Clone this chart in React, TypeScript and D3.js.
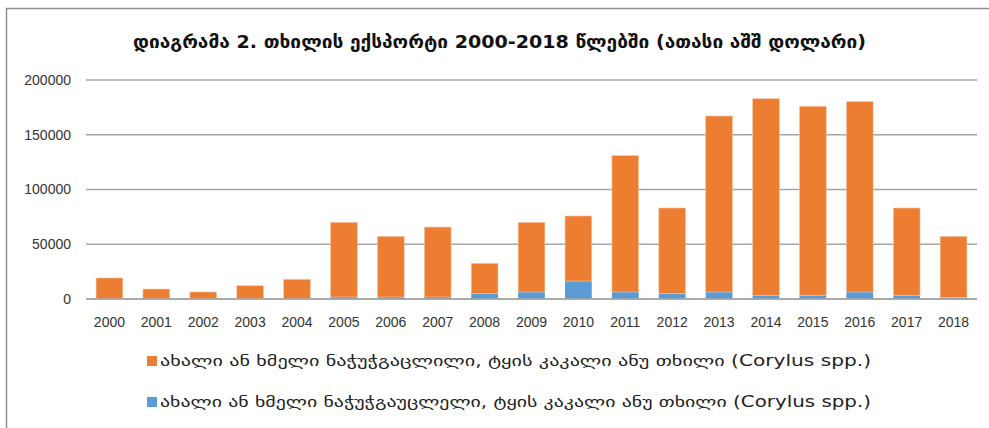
import React, { useEffect, useRef } from 'react'
import * as d3 from 'd3'

const years = ['2000', '2001', '2002', '2003', '2004', '2005', '2006', '2007', '2008', '2009',
  '2010', '2011', '2012', '2013', '2014', '2015', '2016', '2017', '2018']

// unshelled (blue, bottom segment)
const unshelled = [0, 0, 0, 0, 0, 1800, 1800, 1800, 4900, 6400,
  16400, 6400, 4900, 6400, 3000, 3000, 6400, 3000, 1500]

// shelled (orange, stacked on top)
const shelled = [19200, 9100, 6400, 12100, 18000, 68200, 55400, 63900, 27700, 63600,
  59400, 124500, 78200, 160700, 179900, 173000, 173800, 80100, 55700]

const yTicks = [0, 50000, 100000, 150000, 200000]

const title = 'დიაგრამა 2. თხილის ექსპორტი  2000-2018 წლებში (ათასი აშშ დოლარი)'
const legendLabels = [
  'ახალი ან ხმელი ნაჭუჭგაცლილი, ტყის კაკალი  ანუ თხილი  (Corylus spp.)',
  'ახალი ან ხმელი ნაჭუჭგაუცლელი, ტყის კაკალი  ანუ თხილი  (Corylus spp.)',
]
const colors = ['#ED7D31', '#5B9BD5']

const W = 989
const H = 428
const latin = '"Liberation Sans", "DejaVu Sans", sans-serif'
const georgian = '"DejaVu Sans", sans-serif'

export default function App() {
  const ref = useRef<SVGSVGElement>(null)

  useEffect(() => {
    document.body.style.margin = '0'
    if (!ref.current) return
    const svg = d3.select(ref.current)
    svg.selectAll('*').remove()

    svg.append('rect').attr('width', W).attr('height', H).attr('fill', '#fff')

    // chart border (only top and left visible)
    svg.append('path')
      .attr('d', `M6.5,${H} L6.5,8.5 L${W},8.5`)
      .attr('fill', 'none')
      .attr('stroke', '#8f8f8f')
      .attr('stroke-width', 1.5)

    const x = d3.scaleBand<string>()
      .domain(years)
      .range([86, 977])
      .paddingInner(0.43)
      .paddingOuter(0.215)

    const y = d3.scaleLinear().domain([0, 200000]).range([299, 80])

    // gridlines
    svg.append('g')
      .selectAll('line')
      .data(yTicks)
      .join('line')
      .attr('x1', 86)
      .attr('x2', 977)
      .attr('y1', d => y(d))
      .attr('y2', d => y(d))
      .attr('stroke', '#a6a6a6')
      .attr('stroke-width', 1.3)

    // y labels
    svg.append('g')
      .selectAll('text')
      .data(yTicks)
      .join('text')
      .attr('x', 71)
      .attr('y', d => y(d))
      .attr('dy', '0.35em')
      .attr('text-anchor', 'end')
      .style('font-family', latin)
      .style('font-size', '14px')
      .style('fill', '#333')
      .text(d => String(d))

    const stack = d3.stack<number>()
      .keys(['unshelled', 'shelled'])
      .value((i, key) => (key === 'unshelled' ? unshelled[i] : shelled[i]))
    const series = stack(d3.range(years.length))

    const seriesColor = [colors[1], colors[0]]
    series.forEach((s, si) => {
      svg.append('g')
        .selectAll('rect')
        .data(s)
        .join('rect')
        .attr('x', d => x(years[d.data])!)
        .attr('width', x.bandwidth())
        .attr('y', d => y(d[1]))
        .attr('height', d => Math.max(0, y(d[0]) - y(d[1])))
        .attr('fill', seriesColor[si])
        .attr('stroke', si === 1 ? '#f6c6a3' : 'none')
        .attr('stroke-width', 0.6)
    })

    // baseline on top of bars
    svg.append('line')
      .attr('x1', 86).attr('x2', 977)
      .attr('y1', y(0)).attr('y2', y(0))
      .attr('stroke', '#a6a6a6').attr('stroke-width', 1.3)

    // x labels
    svg.append('g')
      .selectAll('text')
      .data(years)
      .join('text')
      .attr('x', d => x(d)! + x.bandwidth() / 2)
      .attr('y', 327)
      .attr('text-anchor', 'middle')
      .style('font-family', latin)
      .style('font-size', '14px')
      .style('fill', '#333')
      .text(d => d)

    // title
    svg.append('text')
      .attr('x', 133)
      .attr('y', 48)
      .attr('textLength', 733)
      .attr('lengthAdjust', 'spacingAndGlyphs')
      .style('font-family', georgian)
      .style('font-weight', 'bold')
      .style('font-size', '18px')
      .style('fill', '#111')
      .text(title)

    // legend
    const legend = svg.append('g')
    legendLabels.forEach((label, i) => {
      const cy = 361 + i * 41
      legend.append('rect')
        .attr('x', 147)
        .attr('y', cy - 5)
        .attr('width', 10)
        .attr('height', 10)
        .attr('fill', colors[i])
      legend.append('text')
        .attr('x', 160)
        .attr('y', cy + 5)
        .attr('textLength', 711)
        .attr('lengthAdjust', 'spacingAndGlyphs')
        .style('font-family', georgian)
        .style('font-size', '15px')
        .style('fill', '#222')
        .text(label)
    })
  }, [])

  return (
    <svg ref={ref} width={W} height={H} style={{ display: 'block', position: 'absolute', left: 0, top: 0 }} />
  )
}
